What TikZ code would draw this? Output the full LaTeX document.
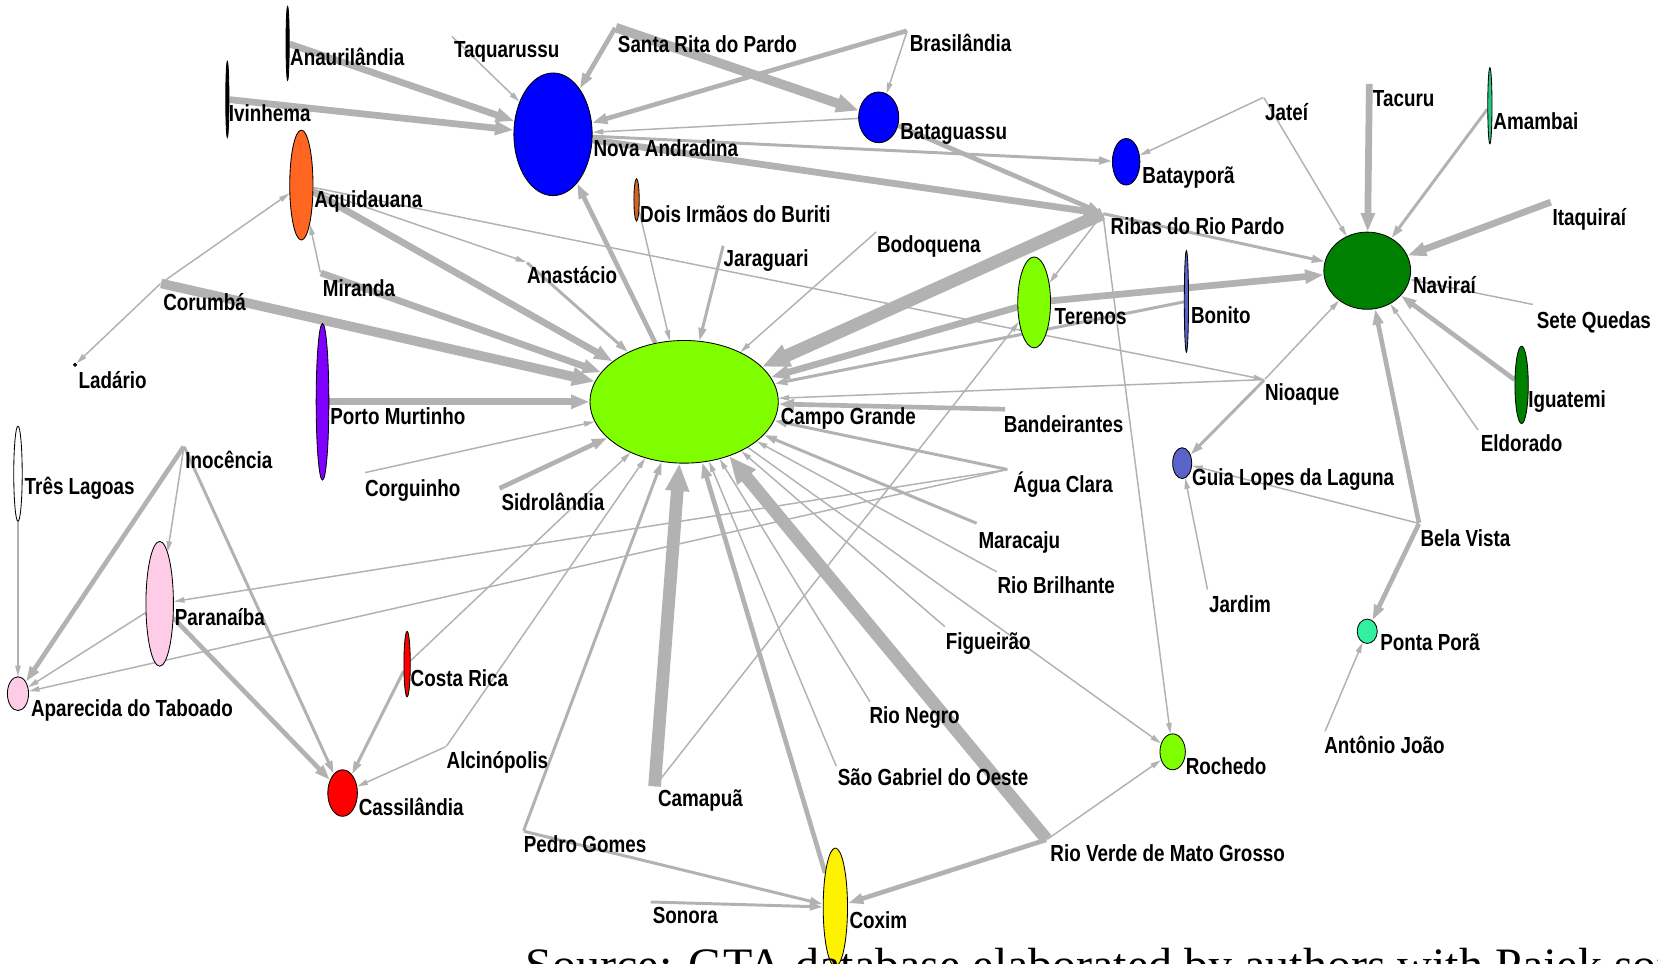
\documentclass[tikz,border=0pt]{standalone}
\usepackage{fontspec}
\setmainfont{Liberation Sans}[FakeStretch=0.81]
\newfontfamily\srcfont{Liberation Serif}
\usepackage{tikz}
\usetikzlibrary{arrows.meta}
\usetikzlibrary{shapes.geometric,backgrounds}
\tikzset{>={Triangle[length=4pt 1.5,width=1.5pt 1.5]}}

\definecolor{edgegray}{RGB}{178,178,178}
\definecolor{lime}{RGB}{128,255,0}
\definecolor{dgreen}{RGB}{0,128,0}
\definecolor{orng}{RGB}{255,102,34}
\definecolor{brwn}{RGB}{205,100,40}
\definecolor{purp}{RGB}{128,0,255}
\definecolor{pnk}{RGB}{255,204,232}
\definecolor{slate}{RGB}{90,100,200}
\definecolor{mint}{RGB}{50,240,160}
\definecolor{aqua}{RGB}{40,200,130}

\begin{document}
\begin{tikzpicture}[x=0.5pt,y=-0.5pt,
  vtx/.style={ellipse,draw=black,line width=.4pt,inner sep=0pt},
  pnt/.style={inner sep=0pt,minimum size=0pt},
  lbl/.style={anchor=west,inner sep=0pt,text height=8pt,text depth=0pt,font=\fontsize{11}{13}\selectfont\bfseries},
  w1/.style={->,draw=edgegray,fill=edgegray,line width=.7pt},
  w2/.style={->,draw=edgegray,fill=edgegray,line width=1.4pt},
  w3/.style={->,draw=edgegray,fill=edgegray,line width=2.2pt},
  w4/.style={->,draw=edgegray,fill=edgegray,line width=3.2pt},
  w5/.style={->,draw=edgegray,fill=edgegray,line width=4.5pt},
  w6/.style={->,draw=edgegray,fill=edgegray,line width=6pt}]
\useasboundingbox (0,0) rectangle (1568,911);
\clip (0,0) rectangle (1568,911);

% vertices
\node[vtx,fill=black,minimum width=1.5pt,minimum height=35pt] (anau) at (272,41) {};
\node[vtx,fill=black,minimum width=1.5pt,minimum height=36pt] (ivin) at (215,94) {};
\node[pnt] (taqu) at (427,34) {};
\node[vtx,fill=blue,minimum width=37pt,minimum height=58pt] (nova) at (523,127) {};
\node[pnt] (srpa) at (582,26) {};
\node[pnt] (bras) at (858,29) {};
\node[vtx,fill=blue,minimum width=19pt,minimum height=24pt] (batag) at (831,111) {};
\node[vtx,fill=blue,minimum width=13pt,minimum height=22pt] (batay) at (1065,153) {};
\node[pnt] (jate) at (1195,92) {};
\node[pnt] (tacu) at (1295,79) {};
\node[vtx,fill=aqua,minimum width=2pt,minimum height=36pt] (amam) at (1409,100) {};
\node[pnt] (itaq) at (1467,191) {};
\node[vtx,fill=dgreen,minimum width=41pt,minimum height=36.5pt] (navi) at (1293,256) {};
\node[pnt] (ribas) at (1043,202) {};
\node[pnt] (sete) at (1450,288) {};
\node[vtx,fill=slate,minimum width=2pt,minimum height=48pt] (bonito) at (1122,285) {};
\node[vtx,fill=lime,minimum width=15.5pt,minimum height=43pt] (teren) at (978,286) {};
\node[vtx,fill=orng,minimum width=11pt,minimum height=52pt] (aquid) at (285,175) {};
\node[vtx,fill=brwn,minimum width=2.5pt,minimum height=20pt] (dois) at (602,189) {};
\node[pnt] (jarag) at (684,232) {};
\node[pnt] (bodo) at (829,219) {};
\node[pnt] (anast) at (498,248) {};
\node[pnt] (miran) at (303,258) {};
\node[pnt] (corum) at (152,268) {};
\node[vtx,fill=purp!70!black,minimum size=1.5pt] (ladar) at (71,345) {};
\node[vtx,fill=lime,minimum width=89pt,minimum height=58pt] (cg) at (647,380) {};
\node[vtx,fill=purp,minimum width=6pt,minimum height=74pt] (portom) at (305,380) {};
\node[pnt] (corgu) at (345,447) {};
\node[pnt] (sidro) at (472,462) {};
\node[vtx,fill=white,minimum width=4pt,minimum height=45pt] (tresl) at (17,448) {};
\node[pnt] (inoc) at (174,422) {};
\node[vtx,fill=pnk,minimum width=13pt,minimum height=59pt] (paran) at (151,571) {};
\node[vtx,fill=pnk,minimum width=10pt,minimum height=16pt] (apar) at (17,656) {};
\node[vtx,fill=red,minimum width=14pt,minimum height=22pt] (cassi) at (324,750) {};
\node[vtx,fill=red,minimum width=3pt,minimum height=31pt] (costa) at (385,628) {};
\node[pnt] (alcin) at (422,706) {};
\node[pnt] (pedro) at (495,786) {};
\node[pnt] (sonora) at (615,853) {};
\node[pnt] (camap) at (619,744) {};
\node[vtx,fill=yellow,minimum width=11.5pt,minimum height=56pt] (coxim) at (790,858) {};
\node[pnt] (sgab) at (791,725) {};
\node[pnt] (rneg) at (823,664) {};
\node[pnt] (rverde) at (990,794) {};
\node[vtx,fill=lime,minimum width=12pt,minimum height=17pt] (rochedo) at (1109,711) {};
\node[pnt] (figu) at (894,593) {};
\node[pnt] (rbril) at (943,541) {};
\node[pnt] (marac) at (924,495) {};
\node[pnt] (aguac) at (953,444) {};
\node[pnt] (bande) at (951,387) {};
\node[pnt] (nioaq) at (1196,359) {};
\node[vtx,fill=slate,minimum width=9pt,minimum height=14.6pt] (guia) at (1118,438) {};
\node[pnt] (jardim) at (1142,558) {};
\node[pnt] (belav) at (1342,495) {};
\node[vtx,fill=mint,minimum width=9.5pt,minimum height=11.5pt] (pontap) at (1293,597) {};
\node[pnt] (antjo) at (1253,692) {};
\node[pnt] (eldor) at (1398,407) {};
\node[vtx,fill=dgreen,minimum width=6.3pt,minimum height=36.6pt] (iguat) at (1439,364) {};

% labels
\node[lbl] (anau-l) at (274,54) {Anaurilândia};
\node[lbl] (ivin-l) at (216,107) {Ivinhema};
\node[lbl] (taqu-l) at (429,46) {Taquarussu};
\node[lbl] (nova-l) at (561,140) {Nova Andradina};
\node[lbl] (srpa-l) at (584,42) {Santa Rita do Pardo};
\node[lbl] (bras-l) at (860,41) {Brasilândia};
\node[lbl] (batag-l) at (851,124) {Bataguassu};
\node[lbl] (batay-l) at (1080,166) {Batayporã};
\node[lbl] (jate-l) at (1196,106) {Jateí};
\node[lbl] (tacu-l) at (1298,93) {Tacuru};
\node[lbl] (amam-l) at (1412,114) {Amambai};
\node[lbl] (itaq-l) at (1468,205) {Itaquiraí};
\node[lbl] (navi-l) at (1336,270) {Naviraí};
\node[lbl] (ribas-l) at (1050,214) {Ribas do Rio Pardo};
\node[lbl] (sete-l) at (1453,303) {Sete Quedas};
\node[lbl] (bonito-l) at (1126,298) {Bonito};
\node[lbl] (teren-l) at (997,299) {Terenos};
\node[lbl] (aquid-l) at (297,188) {Aquidauana};
\node[lbl] (dois-l) at (605,202) {Dois Irmãos do Buriti};
\node[lbl] (jarag-l) at (684,244) {Jaraguari};
\node[lbl] (bodo-l) at (829,231) {Bodoquena};
\node[lbl] (anast-l) at (498,260) {Anastácio};
\node[lbl] (miran-l) at (305,272) {Miranda};
\node[lbl] (corum-l) at (154,286) {Corumbá};
\node[lbl] (ladar-l) at (74,359) {Ladário};
\node[lbl] (cg-l) at (738,393) {Campo Grande};
\node[lbl] (portom-l) at (312,393) {Porto Murtinho};
\node[lbl] (corgu-l) at (345,462) {Corguinho};
\node[lbl] (sidro-l) at (474,475) {Sidrolândia};
\node[lbl] (tresl-l) at (23,460) {Três Lagoas};
\node[lbl] (inoc-l) at (175,435) {Inocência};
\node[lbl] (paran-l) at (165,584) {Paranaíba};
\node[lbl] (apar-l) at (29,670) {Aparecida do Taboado};
\node[lbl] (cassi-l) at (339,763) {Cassilândia};
\node[lbl] (costa-l) at (388,641) {Costa Rica};
\node[lbl] (alcin-l) at (422,719) {Alcinópolis};
\node[lbl] (pedro-l) at (495,798) {Pedro Gomes};
\node[lbl] (sonora-l) at (617,865) {Sonora};
\node[lbl] (camap-l) at (622,755) {Camapuã};
\node[lbl] (coxim-l) at (803,870) {Coxim};
\node[lbl] (sgab-l) at (792,735) {São Gabriel do Oeste};
\node[lbl] (rneg-l) at (822,676) {Rio Negro};
\node[lbl] (rverde-l) at (993,807) {Rio Verde de Mato Grosso};
\node[lbl] (rochedo-l) at (1121,724) {Rochedo};
\node[lbl] (figu-l) at (894,606) {Figueirão};
\node[lbl] (rbril-l) at (943,553) {Rio Brilhante};
\node[lbl] (marac-l) at (925,511) {Maracaju};
\node[lbl] (aguac-l) at (958,458) {Água Clara};
\node[lbl] (bande-l) at (949,401) {Bandeirantes};
\node[lbl] (nioaq-l) at (1196,371) {Nioaque};
\node[lbl] (guia-l) at (1127,451) {Guia Lopes da Laguna};
\node[lbl] (jardim-l) at (1143,571) {Jardim};
\node[lbl] (belav-l) at (1343,509) {Bela Vista};
\node[lbl] (pontap-l) at (1305,607) {Ponta Porã};
\node[lbl] (antjo-l) at (1252,705) {Antônio João};
\node[lbl] (eldor-l) at (1400,419) {Eldorado};
\node[lbl] (iguat-l) at (1445,377) {Iguatemi};

\node[anchor=base west,inner sep=0pt,font=\srcfont\fontsize{22.7}{27}\selectfont] (src) at (497,928) {Source: GTA database elaborated by authors with Pajek software};

% flows
\begin{scope}[on background layer]
\draw[w4] (anau) -- (nova);
\draw[w4] (ivin) -- (nova);
\draw[w1] (taqu) -- (nova);
\draw[w3] (srpa) -- (nova);
\draw[w5] (srpa) -- (batag);
\draw[w3] (bras) -- (nova);
\draw[w1] (bras) -- (batag);
\draw[w1] (batag) -- (nova);
\draw[w2] (nova) -- (batay);
\draw[w4] (nova) -- (ribas);
\draw[w3] (batag) -- (ribas);
\draw[w3] (cg) -- (nova);
\draw[w6] (ribas) -- (cg);
\draw[w1] (ribas) -- (teren);
\draw[w2] (ribas) -- (navi);
\draw[w1] (ribas) -- (rochedo);
\draw[w1] (jate) -- (batay);
\draw[w1] (jate) -- (navi);
\draw[w4] (tacu) -- (navi);
\draw[w2] (amam) -- (navi);
\draw[w4] (itaq) -- (navi);
\draw[w1] (sete) -- (navi);
\draw[w4] (teren) -- (navi);
\draw[w4] (teren) -- (cg);
\draw[w2] (bonito) -- (cg);
\draw[w3] (iguat) -- (navi);
\draw[w1] (eldor) -- (navi);
\draw[w3] (belav) -- (navi);
\draw[w1] (nioaq) -- (navi);
\draw[w2] (nioaq) -- (guia);
\draw[w1] (nioaq) -- (cg);
\draw[w1] (aquid) -- (nioaq);
\draw[w1] (belav) -- (guia);
\draw[w3] (belav) -- (pontap);
\draw[w1] (jardim) -- (guia);
\draw[w1] (antjo) -- (pontap);
\draw[w4] (aquid) -- (cg);
\draw[w1] (aquid) -- (anast);
\draw[w2] (anast) -- (cg);
\draw[w1] (miran) -- (aquid);
\draw[w4] (miran) -- (cg);
\draw[w1] (corum) -- (aquid);
\draw[w1] (corum) -- (ladar);
\draw[w5] (corum) -- (cg);
\draw[w4] (portom) -- (cg);
\draw[w1] (corgu) -- (cg);
\draw[w3] (sidro) -- (cg);
\draw[w1] (dois) -- (cg);
\draw[w2] (jarag) -- (cg);
\draw[w1] (bodo) -- (cg);
\draw[w3] (bande) -- (cg);
\draw[w2] (aguac) -- (cg);
\draw[w1] (aguac) -- (paran);
\draw[w1] (aguac) -- (apar);
\draw[w2] (marac) -- (cg);
\draw[w1] (rbril) -- (cg);
\draw[w1] (figu) -- (cg);
\draw[w1] (cg) -- (rochedo);
\draw[w1] (rneg) -- (cg);
\draw[w1] (sgab) -- (cg);
\draw[w3] (coxim) -- (cg);
\draw[w6] (rverde) -- (cg);
\draw[w6] (camap) -- (cg);
\draw[w1] (camap) -- (teren);
\draw[w2] (pedro) -- (cg);
\draw[w2] (pedro) -- (coxim);
\draw[w2] (sonora) -- (coxim);
\draw[w3] (rverde) -- (coxim);
\draw[w1] (rverde) -- (rochedo);
\draw[w1] (alcin) -- (cg);
\draw[w1] (alcin) -- (cassi);
\draw[w1] (costa) -- (cg);
\draw[w2] (costa) -- (cassi);
\draw[w3] (paran) -- (cassi);
\draw[w2] (inoc) -- (cassi);
\draw[w1] (inoc) -- (paran);
\draw[w3] (inoc) -- (apar);
\draw[w1] (paran) -- (apar);
\draw[w1] (tresl) -- (apar);
\end{scope}
\end{tikzpicture}
\end{document}
